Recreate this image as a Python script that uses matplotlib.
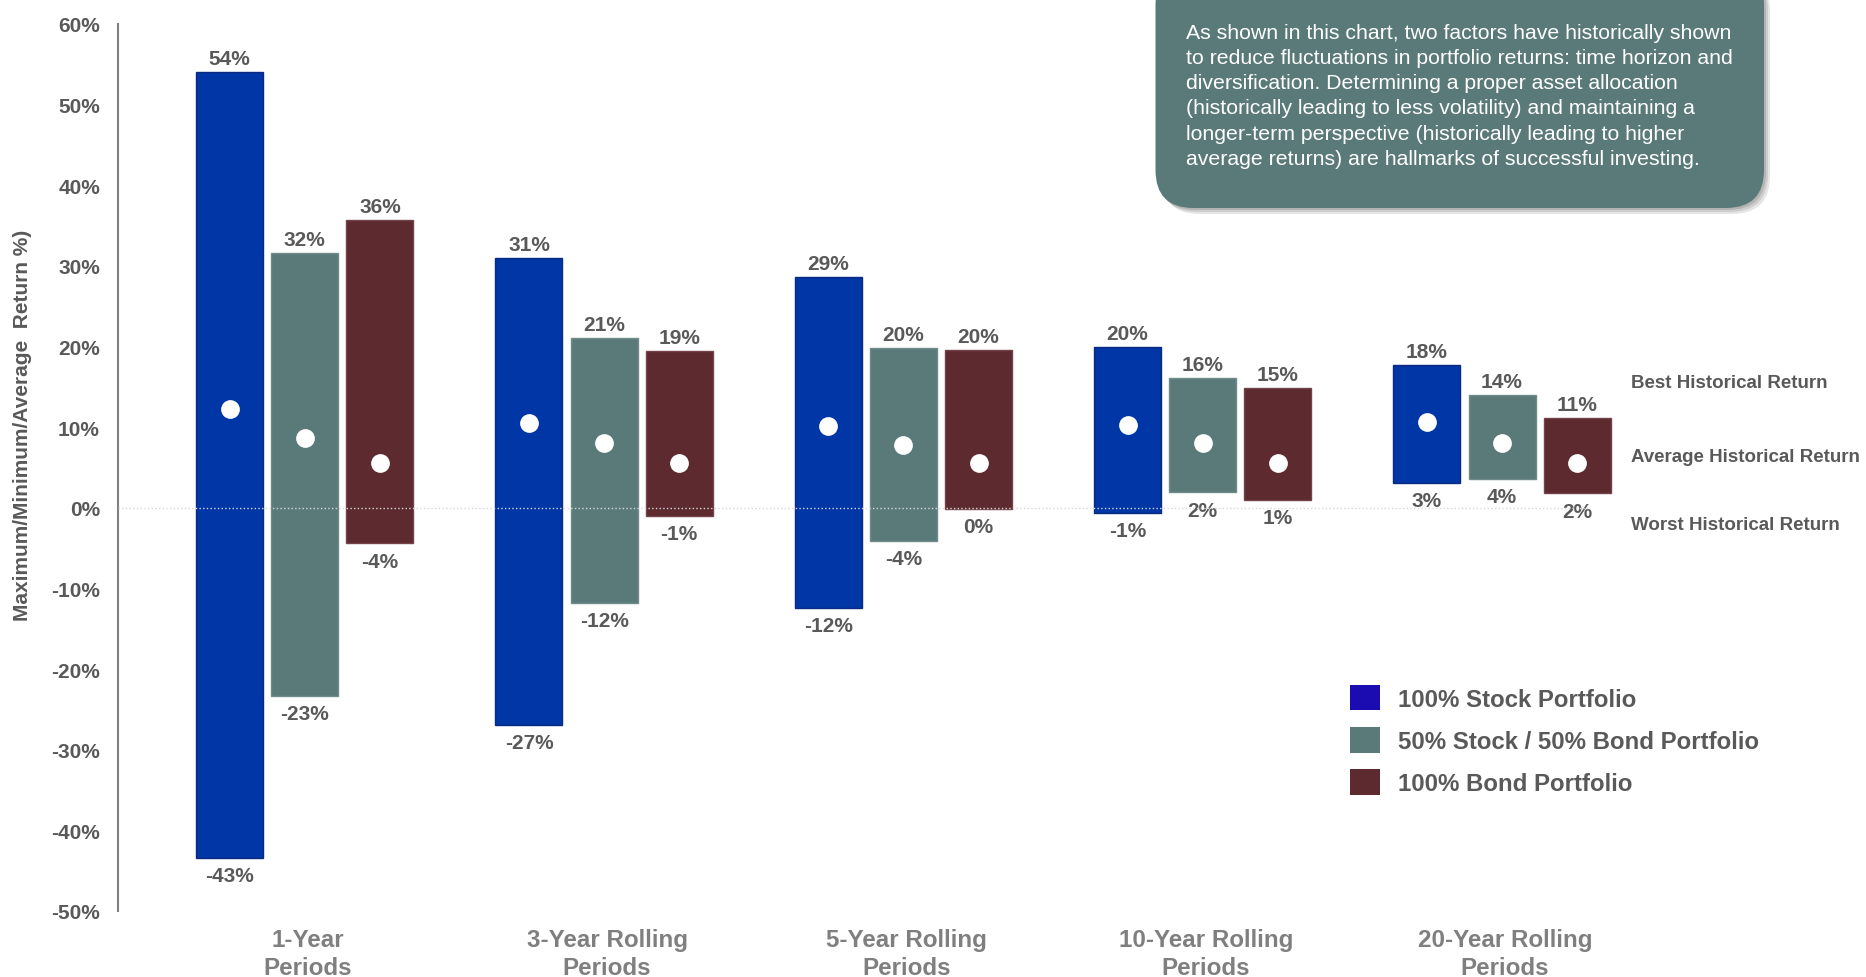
import numpy as np
import matplotlib
matplotlib.use("Agg")
import matplotlib.pyplot as plt
from matplotlib.patches import FancyBboxPatch, Patch
from matplotlib import font_manager

# --- Data ---
periods = ["1-Year\nPeriods", "3-Year Rolling\nPeriods", "5-Year Rolling\nPeriods",
           "10-Year Rolling\nPeriods", "20-Year Rolling\nPeriods"]
series = ["100% Stock Portfolio", "50% Stock / 50% Bond Portfolio", "100% Bond Portfolio"]

stock_max = [54.0, 31.0, 28.6, 19.9, 17.7]
stock_min = [-43.4, -26.9, -12.4, -0.6, 3.1]
stock_avg = [12.3, 10.5, 10.2, 10.3, 10.6]

mix_max = [31.6, 21.1, 19.8, 16.1, 14.0]
mix_min = [-23.3, -11.8, -4.1, 1.9, 3.6]
mix_avg = [8.7, 8.0, 7.8, 8.0, 8.1]

bond_max = [35.7, 19.4, 19.6, 14.8, 11.1]
bond_min = [-4.4, -1.0, -0.1, 1.0, 1.8]
bond_avg = [5.5, 5.5, 5.5, 5.5, 5.5]

bar_colors = ["#0036a6", "#5a7a79", "#5c2a2f"]
edge_colors = ["#0a2a80", "#6f8c8b", "#734349"]
legend_colors = ["#1a0cb0", "#5a7a79", "#5c2a2f"]

note = ("As shown in this chart, two factors have historically shown\n"
        "to reduce fluctuations in portfolio returns: time horizon and\n"
        "diversification. Determining a proper asset allocation\n"
        "(historically leading to less volatility) and maintaining a\n"
        "longer-term perspective (historically leading to higher\n"
        "average returns) are hallmarks of successful investing.")

# --- Fonts ---
names = {f.name for f in font_manager.fontManager.ttflist}
main_font = "Liberation Sans"
narrow_font = "Liberation Sans Narrow" if "Liberation Sans Narrow" in names else "Liberation Sans"
plt.rcParams["font.family"] = main_font

gray = "#595959"
light_gray = "#7f7f7f"

fig = plt.figure(figsize=(18.66, 9.78), dpi=100)
ax = fig.add_axes([118 / 1866, 66 / 978, 1 - 118 / 1866, (912 - 25) / 978])

x = np.arange(len(periods))
width = 0.224
step = 0.251

maxs = [stock_max, mix_max, bond_max]
mins = [stock_min, mix_min, bond_min]
avgs = [stock_avg, mix_avg, bond_avg]

for k in range(3):
    xs = x + (k - 1) * step
    hi = np.array(maxs[k])
    lo = np.array(mins[k])
    ax.bar(xs, hi - lo, bottom=lo, width=width, color=bar_colors[k],
           edgecolor=edge_colors[k], linewidth=1, zorder=2)
    ax.plot(xs, avgs[k], "o", color="white", ms=13.5, mec="none", zorder=4)
    for xi, h, l in zip(xs, hi, lo):
        ax.annotate(f"{int(round(h))}%", (xi, h), xytext=(0, 3), textcoords="offset points",
                    ha="center", va="bottom", fontsize=15, fontweight="bold", color=gray)
        ax.annotate(f"{int(round(l))}%", (xi, l), xytext=(0, -6), textcoords="offset points",
                    ha="center", va="top", fontsize=15, fontweight="bold", color=gray)

# zero line
ax.axhline(0, xmin=0, xmax=0.842, color="#d8d8d8", lw=1, ls=":", zorder=3)

ax.set_ylim(-50, 60)
ax.set_xlim(-0.624, 5.216)
ax.set_yticks(np.arange(-50, 61, 10))
ax.set_yticklabels([f"{v}%" for v in range(-50, 61, 10)])
ax.tick_params(axis="y", length=0, pad=13, labelsize=15, labelcolor=gray)
for t in ax.get_yticklabels():
    t.set_fontweight("bold")
ax.set_xticks(x + 0.01)
ax.set_xticklabels(periods, fontsize=17.4, fontweight="bold", color=light_gray,
                   family=narrow_font, linespacing=1.3)
ax.tick_params(axis="x", length=0, pad=12)

for s in ["top", "right", "bottom"]:
    ax.spines[s].set_visible(False)
ax.spines["left"].set_color("#808080")
ax.spines["left"].set_linewidth(1.5)

fig.text(23 / 1866, 1 - 425 / 978, "Maximum/Minimum/Average  Return %)", rotation=90,
         ha="center", va="center", fontsize=15, fontweight="bold", color=gray, family=narrow_font)

# right-side labels
for label, ypix in [("Best Historical Return", 383), ("Average Historical Return", 458),
                    ("Worst Historical Return", 526)]:
    fig.text(1631 / 1866, 1 - ypix / 978, label, ha="left", va="center",
             fontsize=13.5, fontweight="bold", color=gray)

# legend
handles = [Patch(facecolor=c, edgecolor="none") for c in legend_colors]
leg = fig.legend(handles, series, loc="upper left", bbox_to_anchor=(1350 / 1866, 1 - 686 / 978),
                 frameon=False, borderpad=0, borderaxespad=0, handlelength=1.25, handleheight=1.25,
                 handletextpad=0.75, labelspacing=0.68, prop={"size": 17.3, "weight": "bold"})
for t in leg.get_texts():
    t.set_color(gray)

# note box with shadow
bx0, bx1 = 11.555, 17.64
by0, by1 = 7.69, 10.1
for i, a in enumerate([0.10, 0.10, 0.12]):
    off = 0.02 * (3 - i)
    fig.add_artist(FancyBboxPatch((bx0 + off, by0 - off), bx1 - bx0, by1 - by0,
                                  boxstyle="round,pad=0,rounding_size=0.38",
                                  transform=fig.dpi_scale_trans, facecolor="black",
                                  edgecolor="none", alpha=a))
fig.add_artist(FancyBboxPatch((bx0, by0), bx1 - bx0, by1 - by0,
                              boxstyle="round,pad=0,rounding_size=0.38",
                              transform=fig.dpi_scale_trans, facecolor="#5a7a79",
                              edgecolor="none"))
fig.text(1186 / 1866, 1 - 24 / 978, note, ha="left", va="top", fontsize=15.3,
         color="white", linespacing=1.41)

fig.savefig("out.png", dpi=100)
